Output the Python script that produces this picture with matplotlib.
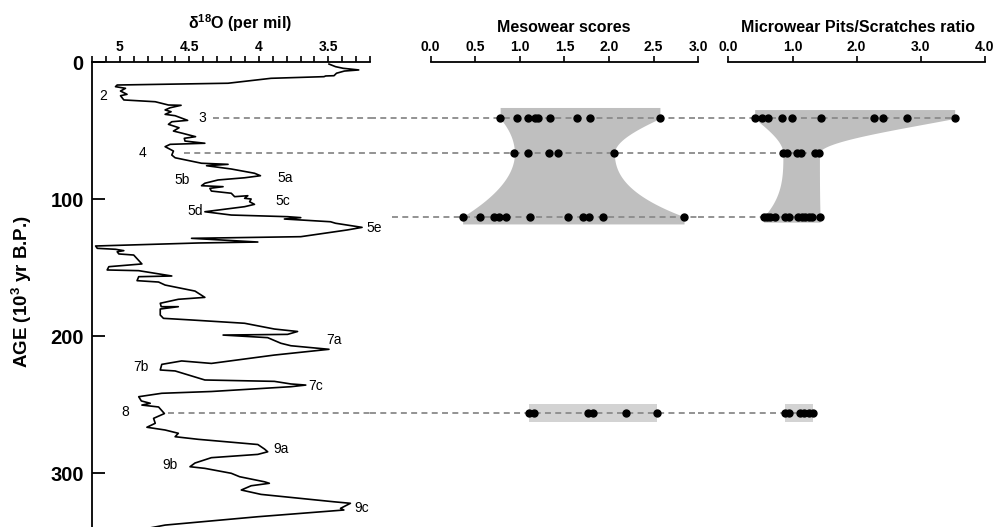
import numpy as np
import matplotlib
matplotlib.use('Agg')
import matplotlib.pyplot as plt

plt.rcParams['font.family'] = ['Liberation Sans', 'DejaVu Sans']

# benthic d18O record: age (10^3 yr B.P.) and d18O (per mil)
age = [1.5, 3.4, 4.6, 5.8, 6.6, 8.2, 10.0, 10.2, 10.7, 11.9, 15.5, 16.8, 18.0, 19.2,
       21.2, 23.6, 24.6, 27.7, 29.0, 31.4, 31.6, 33.4, 35.0, 36.3, 38.2, 39.2, 42.6,
       43.6, 45.5, 48.0, 50.4, 52.0, 54.5, 55.7, 57.7, 59.3, 60.1, 61.8, 65.0, 67.9,
       69.9, 73.9, 74.7, 75.7, 78.1, 81.2, 83.0, 84.5, 86.1, 88.5, 90.3, 91.0, 92.2,
       94.2, 95.8, 98.3, 97.6, 99.5, 100.0, 102.0, 103.9, 105.6, 109.3, 111.7, 112.9,
       113.6, 114.6, 116.6, 117.7, 120.7, 122.6, 127.5, 128.7, 131.4, 132.1, 134.3,
       136.0, 136.7, 137.7, 138.5, 140.1, 140.9, 147.4, 149.4, 151.8, 152.3, 156.2,
       156.7, 159.6, 160.6, 162.8, 167.2, 171.8, 173.2, 176.1, 178.6, 178.6, 180.3,
       184.7, 187.1, 188.3, 190.7, 194.9, 196.7, 198.8, 199.3, 201.2, 205.3, 207.1,
       209.7, 213.9, 220.0, 218.2, 220.7, 224.8, 225.5, 232.1, 233.1, 235.0, 235.8,
       237.0, 240.5, 241.8, 244.3, 247.4, 249.1, 250.4, 251.8, 256.6, 260.1, 263.7,
       266.6, 268.6, 271.0, 273.5, 275.4, 279.2, 282.5, 284.5, 286.4, 288.8, 292.7,
       295.4, 296.6, 300.2, 302.7, 306.4, 307.5, 309.3, 312.4, 315.6, 321.0, 322.1,
       325.8, 327.0, 331.9, 338.0, 343.0]
d18o = [3.495, 3.448, 3.393, 3.281, 3.384, 3.441, 3.459, 3.519, 3.531, 3.912, 4.221,
        5.019, 5.031, 4.959, 4.995, 4.948, 4.995, 4.971, 4.745, 4.650, 4.559, 4.638,
        4.674, 4.631, 4.674, 4.602, 4.512, 4.626, 4.650, 4.574, 4.614, 4.550, 4.455,
        4.536, 4.531, 4.388, 4.638, 4.674, 4.614, 4.626, 4.602, 4.412, 4.221, 4.376,
        4.198, 4.031, 3.988, 4.102, 4.293, 4.388, 4.412, 4.257, 4.352, 4.341, 4.198,
        4.174, 4.079, 4.102, 4.055, 4.066, 4.031, 4.102, 4.388, 4.198, 3.793, 3.698,
        3.816, 3.484, 3.448, 3.257, 3.364, 3.698, 4.484, 4.007, 4.436, 5.174, 5.162,
        5.031, 4.971, 5.019, 5.007, 4.900, 4.841, 5.079, 5.091, 4.864, 4.626, 4.864,
        4.876, 4.721, 4.674, 4.459, 4.388, 4.579, 4.709, 4.702, 4.579, 4.709, 4.709,
        4.686, 4.484, 4.102, 3.888, 3.721, 3.793, 4.257, 3.936, 3.841, 3.769, 3.495,
        3.888, 4.341, 4.555, 4.698, 4.709, 4.602, 4.388, 3.888, 3.769, 3.662, 3.769,
        4.341, 4.698, 4.864, 4.845, 4.781, 4.841, 4.721, 4.679, 4.757, 4.745, 4.805,
        4.674, 4.579, 4.602, 4.436, 4.007, 3.959, 3.936, 4.007, 4.341, 4.459, 4.495,
        4.388, 4.198, 4.138, 3.959, 3.924, 4.055, 4.126, 3.984, 3.459, 3.341, 3.412,
        3.388, 4.007, 4.674, 4.936]

# ages of the sampled levels (MIS 3, 4, 5e, 8)
level_names = ['3', '4', '5e', '8']
level_ages = [41.2, 66.6, 112.9, 256.2]

# mesowear scores per level
meso_mis3 = [0.78, 0.97, 1.09, 1.17, 1.20, 1.34, 1.64, 1.79, 2.57]
meso_mis4 = [0.94, 1.09, 1.33, 1.43, 2.06]
meso_mis5e = [0.36, 0.55, 0.71, 0.77, 0.85, 1.12, 1.54, 1.71, 1.77, 1.93, 2.84]
meso_mis8 = [1.10, 1.16, 1.76, 1.82, 2.19, 2.54]

# microwear pits/scratches ratio per level
micro_mis3 = [0.41, 0.53, 0.62, 0.83, 0.99, 1.44, 2.27, 2.41, 2.78, 3.53]
micro_mis4 = [0.85, 0.91, 1.07, 1.13, 1.35, 1.42]
micro_mis5e = [0.55, 0.60, 0.65, 0.72, 0.88, 0.95, 1.09, 1.15, 1.19, 1.25, 1.31, 1.43]
micro_mis8 = [0.89, 0.95, 1.11, 1.18, 1.25, 1.32]

meso = [meso_mis3, meso_mis4, meso_mis5e, meso_mis8]
micro = [micro_mis3, micro_mis4, micro_mis5e, micro_mis8]

W, H = 997, 527
fig = plt.figure(figsize=(W / 100, H / 100), dpi=100)


def box(left, right, top, bottom):
    return [left / W, 1 - bottom / H, (right - left) / W, (bottom - top) / H]


ax1 = fig.add_axes(box(92, 370, 62, 527))
ax2 = fig.add_axes(box(430.5, 698.3, 62, 527), sharey=ax1)
ax3 = fig.add_axes(box(728.4, 984.8, 62, 527), sharey=ax1)

for ax in (ax1, ax2, ax3):
    ax.patch.set_visible(False)
    ax.spines['right'].set_visible(False)
    ax.spines['bottom'].set_visible(False)
    ax.spines['top'].set_linewidth(1.3)
    ax.xaxis.tick_top()
    ax.tick_params(axis='x', which='both', direction='out', length=4, width=1.2,
                   top=True, bottom=False, labeltop=True, labelbottom=False,
                   labelsize=10, pad=2)
for ax in (ax2, ax3):
    ax.spines['left'].set_visible(False)
    ax.tick_params(axis='y', left=False, labelleft=False)
ax1.spines['left'].set_linewidth(1.3)

# d18O curve
ax1.set_ylim(339.4, 0)
ax1.set_xlim(5.2, 3.2)
ax1.set_xticks([5, 4.5, 4, 3.5])
ax1.set_xticklabels(['5', '4.5', '4', '3.5'])
ax1.set_xticks(np.arange(3.2, 5.25, 0.1), minor=True)
ax1.set_yticks([0, 100, 200, 300])
ax1.tick_params(axis='y', direction='in', length=9, width=1.3, labelsize=14.5, pad=6)
ax1.plot(d18o, age, color='black', lw=1.2)

stage_labels = [('2', 5.12, 24.8), ('3', 4.41, 40.9), ('4', 4.84, 66.4),
                ('5a', 3.81, 84.7), ('5b', 4.55, 86.1), ('5c', 3.83, 101.5),
                ('5d', 4.46, 108.8), ('5e', 3.17, 121.2), ('7a', 3.46, 202.9),
                ('7b', 4.85, 222.6), ('7c', 3.59, 236.5), ('8', 4.96, 255.5),
                ('9a', 3.84, 282.5), ('9b', 4.64, 294.2), ('9c', 3.26, 325.5)]
for txt, x, y in stage_labels:
    ax1.text(x, y, txt, fontsize=10, ha='center', va='center', clip_on=False)

ax2.set_xlim(0, 3)
ax2.set_xticks(np.arange(0, 3.01, 0.5))
ax2.set_xticklabels(['0.0', '0.5', '1.0', '1.5', '2.0', '2.5', '3.0'])
ax3.set_xlim(0, 4)
ax3.set_xticks([0, 1, 2, 3, 4])
ax3.set_xticklabels(['0.0', '1.0', '2.0', '3.0', '4.0'])

for ax in (ax1, ax2, ax3):
    for lab in ax.get_xticklabels() + ax.get_yticklabels():
        lab.set_fontweight('bold')


def pchip(t, y, tt):
    t = np.asarray(t, float)
    y = np.asarray(y, float)
    h = np.diff(t)
    d = np.diff(y) / h
    m = np.zeros_like(y)
    for k in range(1, len(y) - 1):
        if d[k - 1] * d[k] > 0:
            w1 = 2 * h[k] + h[k - 1]
            w2 = h[k] + 2 * h[k - 1]
            m[k] = (w1 + w2) / (w1 / d[k - 1] + w2 / d[k])
    for i in (0, -1):
        if i == 0:
            e = ((2 * h[0] + h[1]) * d[0] - h[0] * d[1]) / (h[0] + h[1])
            d0, d1 = d[0], d[1]
        else:
            e = ((2 * h[-1] + h[-2]) * d[-1] - h[-1] * d[-2]) / (h[-1] + h[-2])
            d0, d1 = d[-1], d[-2]
        if np.sign(e) != np.sign(d0):
            e = 0
        elif np.sign(d0) != np.sign(d1) and abs(e) > abs(3 * d0):
            e = 3 * d0
        m[i] = e
    k = np.clip(np.searchsorted(t, tt) - 1, 0, len(t) - 2)
    s = (tt - t[k]) / h[k]
    h00 = 2 * s**3 - 3 * s**2 + 1
    h10 = s**3 - 2 * s**2 + s
    h01 = -2 * s**3 + 3 * s**2
    h11 = s**3 - s**2
    return h00 * y[k] + h10 * h[k] * m[k] + h01 * y[k + 1] + h11 * h[k] * m[k + 1]


def envelope(ax, samples, pad_top, pad_bot):
    lv = level_ages[:3]
    lo = [min(s) for s in samples]
    hi = [max(s) for s in samples]
    tt = np.linspace(lv[0], lv[-1], 300)
    yy = np.concatenate([[lv[0] - pad_top], tt, [lv[-1] + pad_bot]])
    left = np.concatenate([[lo[0]], pchip(lv, lo, tt), [lo[-1]]])
    right = np.concatenate([[hi[0]], pchip(lv, hi, tt), [hi[-1]]])
    ax.fill_betweenx(yy, left, right, color='#bfbfbf', lw=0, zorder=1)


envelope(ax2, meso[:3], 8.0, 5.3)
envelope(ax3, micro[:3], 6.5, 4.0)
for ax, s in ((ax2, meso_mis8), (ax3, micro_mis8)):
    a = level_ages[3]
    ax.fill_betweenx([a - 6.8, a + 6.8], min(s), max(s), color='#d3d3d3', lw=0, zorder=1)

# dashed level lines running from the curve labels across both panels
dash_start = [4.33, 4.54, 3.04, 4.65]


def to_fig(ax, x):
    return fig.transFigure.inverted().transform(ax.transData.transform((x, 0)))[0]


def from_fig(ax, fx):
    return ax.transData.inverted().transform(fig.transFigure.transform((fx, 0)))[0]


r1 = ax1.get_position().x1
r2 = ax2.get_position().x1
bands = [(ax1, -1.0, r1), (ax2, r1, r2), (ax3, r2, 2.0)]
for a, x0, s in zip(level_ages, dash_start, micro):
    f0 = to_fig(ax1, x0)
    f1 = to_fig(ax3, max(s))
    for ax, lo, hi in bands:
        p, q = max(f0, lo), min(f1, hi)
        if q > p:
            ax.plot([from_fig(ax, p), from_fig(ax, q)], [a, a], color='#8a8a8a',
                    lw=1.3, linestyle=(0, (3.3, 2.4)), clip_on=False, zorder=2)

for ax, groups in ((ax2, meso), (ax3, micro)):
    for a, s in zip(level_ages, groups):
        ax.plot(s, [a] * len(s), 'o', color='black', ms=5, zorder=3, clip_on=False)

fig.text(240 / W, 1 - 23 / H, r'$\mathregular{\delta^{18}}$O (per mil)', fontsize=11.5,
         fontweight='bold', ha='center', va='center')
fig.text(564 / W, 1 - 28 / H, 'Mesowear scores', fontsize=11.5, fontweight='bold',
         ha='center', va='center')
fig.text(858 / W, 1 - 28 / H, 'Microwear Pits/Scratches ratio', fontsize=11.5,
         fontweight='bold', ha='center', va='center')
fig.text(22 / W, 1 - 292 / H, r'AGE (10$\mathregular{^3}$ yr B.P.)', fontsize=13.5,
         fontweight='bold', rotation=90, ha='center', va='center')

fig.savefig('out.png', dpi=100)
